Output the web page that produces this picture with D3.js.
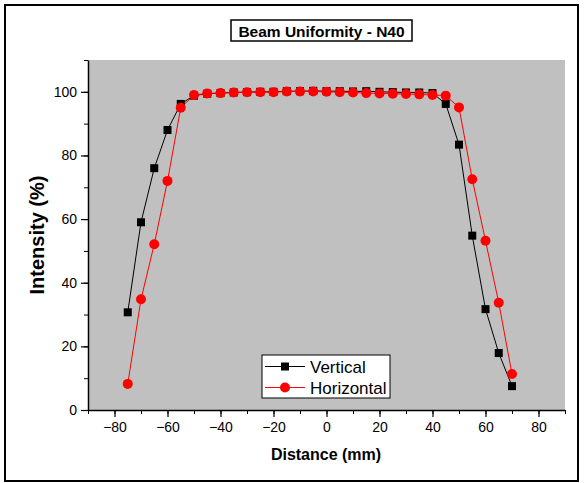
<!DOCTYPE html>
<html>
<head>
<meta charset="utf-8">
<script src="https://cdn.jsdelivr.net/npm/d3@7"></script>
<style>
  body { margin: 0; background: #fff; }
  text { font-family: "Liberation Sans", Arial, sans-serif; }
</style>
</head>
<body>
<div id="chart"></div>
<script>
const distances = [-75, -70, -65, -60, -55, -50, -45, -40, -35, -30, -25, -20, -15, -10, -5, 0, 5, 10, 15, 20, 25, 30, 35, 40, 45, 50, 55, 60, 65, 70];
const verticalValues = [30.7, 59, 76, 88, 96.2, 98.8, 99.4, 99.6, 99.8, 99.9, 100, 100, 100.2, 100.2, 100.3, 100.2, 100.2, 100.1, 100.2, 100, 99.9, 99.8, 99.8, 99.6, 96.2, 83.4, 54.8, 31.7, 17.9, 7.5];
const horizontalValues = [8.2, 34.8, 52.1, 72, 95, 99, 99.5, 99.6, 99.8, 99.9, 99.9, 99.9, 100.1, 100.1, 100.1, 100, 99.9, 99.8, 99.6, 99.5, 99.4, 99.3, 99.2, 99, 98.8, 95.1, 72.5, 53.2, 33.7, 11.3];
const xTicks = [-80, -60, -40, -20, 0, 20, 40, 60, 80];
const yTicks = [0, 20, 40, 60, 80, 100];

const width = 584;
const height = 483;

const svg = d3.select('#chart')
  .append('svg')
    .attr('width', width)
    .attr('height', height);

// outer frame
svg.append('rect')
  .attr('x', 5).attr('y', 5)
  .attr('width', 573).attr('height', 476)
  .attr('fill', '#fff')
  .attr('stroke', '#000')
  .attr('stroke-width', 2);

const x = d3.scaleLinear().domain([-90, 90]).range([88, 565]);
const y = d3.scaleLinear().domain([0, 110]).range([410, 60]);

// plot background
svg.append('rect')
  .attr('x', x(-90)).attr('y', y(110))
  .attr('width', x(90) - x(-90)).attr('height', y(0) - y(110))
  .attr('fill', '#c0c0c0');

// minor ticks
svg.append('g')
  .attr('transform', `translate(0, ${y(0)})`)
  .call(d3.axisBottom(x).tickValues(d3.range(-90, 91, 10)).tickSize(4).tickFormat(''))
  .call(g => g.select('.domain').remove());
svg.append('g')
  .attr('transform', `translate(${x(-90)}, 0)`)
  .call(d3.axisLeft(y).tickValues(d3.range(0, 111, 10)).tickSize(4).tickFormat(''))
  .call(g => g.select('.domain').remove());

// major ticks + labels
const xAxis = svg.append('g')
  .attr('transform', `translate(0, ${y(0)})`)
  .call(d3.axisBottom(x).tickValues(xTicks).tickSize(7).tickSizeOuter(0).tickPadding(5));
const yAxis = svg.append('g')
  .attr('transform', `translate(${x(-90)}, 0)`)
  .call(d3.axisLeft(y).tickValues(yTicks).tickSize(7).tickSizeOuter(0).tickPadding(4));

[xAxis, yAxis].forEach(ax => {
  ax.selectAll('text').attr('font-size', 14).attr('fill', '#000')
    .attr('font-family', '"Liberation Sans", Arial, sans-serif');
  ax.selectAll('line').attr('stroke', '#000').attr('stroke-width', 1.2);
  ax.select('.domain').attr('stroke', '#000').attr('stroke-width', 1.5);
});

// lines
const line = d3.line()
  .x((d, i) => x(distances[i]))
  .y(d => y(d));

svg.append('path')
  .datum(verticalValues)
  .attr('fill', 'none')
  .attr('stroke', '#000')
  .attr('stroke-width', 1)
  .attr('d', line);

svg.append('path')
  .datum(horizontalValues)
  .attr('fill', 'none')
  .attr('stroke', '#ff0000')
  .attr('stroke-width', 1)
  .attr('d', line);

// markers
svg.append('g')
  .selectAll('rect')
  .data(verticalValues)
  .join('rect')
    .attr('x', (d, i) => x(distances[i]) - 4)
    .attr('y', d => y(d) - 4)
    .attr('width', 8)
    .attr('height', 8)
    .attr('fill', '#000');

svg.append('g')
  .selectAll('circle')
  .data(horizontalValues)
  .join('circle')
    .attr('cx', (d, i) => x(distances[i]))
    .attr('cy', d => y(d))
    .attr('r', 5)
    .attr('fill', '#ff0000');

// title
svg.append('rect')
  .attr('x', 231).attr('y', 20)
  .attr('width', 181).attr('height', 21)
  .attr('fill', '#fff')
  .attr('stroke', '#000')
  .attr('stroke-width', 1.5);
svg.append('text')
  .attr('x', 321.5).attr('y', 36.5)
  .attr('text-anchor', 'middle')
  .attr('font-size', 15.5)
  .attr('font-weight', 'bold')
  .text('Beam Uniformity - N40');

// axis titles
svg.append('text')
  .attr('x', 326).attr('y', 460)
  .attr('text-anchor', 'middle')
  .attr('font-size', 16)
  .attr('font-weight', 'bold')
  .text('Distance (mm)');
svg.append('text')
  .attr('transform', `translate(44, 235) rotate(-90)`)
  .attr('text-anchor', 'middle')
  .attr('font-size', 20)
  .attr('font-weight', 'bold')
  .text('Intensity (%)');

// legend
const legend = svg.append('g');
legend.append('rect')
  .attr('x', 262).attr('y', 355)
  .attr('width', 128).attr('height', 43)
  .attr('fill', '#fff')
  .attr('stroke', '#000')
  .attr('stroke-width', 1);
const items = [
  {name: 'Vertical', color: '#000', shape: 'square'},
  {name: 'Horizontal', color: '#ff0000', shape: 'circle'}
];
items.forEach((it, i) => {
  const cy = 366.5 + i * 21;
  legend.append('line')
    .attr('x1', 265).attr('x2', 305)
    .attr('y1', cy).attr('y2', cy)
    .attr('stroke', it.color).attr('stroke-width', 1);
  if (it.shape === 'square') {
    legend.append('rect')
      .attr('x', 281).attr('y', cy - 4).attr('width', 8).attr('height', 8)
      .attr('fill', it.color);
  } else {
    legend.append('circle')
      .attr('cx', 285).attr('cy', cy).attr('r', 5)
      .attr('fill', it.color);
  }
  legend.append('text')
    .attr('x', 310).attr('y', cy + 6)
    .attr('font-size', 17)
    .text(it.name);
});
</script>
</body>
</html>
